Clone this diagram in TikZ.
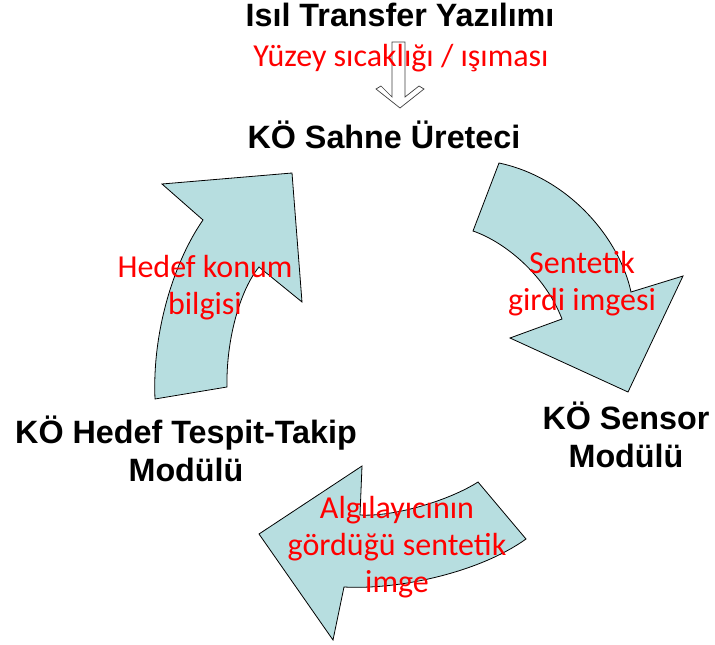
\documentclass[tikz,border=0pt]{standalone}
\usepackage{fontspec}
\setmainfont{Liberation Sans}
\newfontfamily\labelfont{Carlito}
\definecolor{arrowfill}{RGB}{183,222,224}
\definecolor{labelred}{RGB}{255,0,0}
\begin{document}
\begin{tikzpicture}[x=1pt,y=-1pt,
  cyclearrow/.style={draw=black,line width=0.8pt,fill=arrowfill,line join=miter},
  hollowarrow/.style={draw=black!75,line width=0.7pt,fill=white},
  title/.style={font=\fontsize{32.3}{38.5}\selectfont\bfseries,align=center,inner sep=0pt},
  redlabel/.style={font=\labelfont\fontsize{32}{37}\selectfont,text=labelred,align=center,inner sep=0pt}]
\useasboundingbox (0,0) rectangle (715,645);

% hollow arrow from the thermal software down to the scene generator
\draw[hollowarrow] (392,42) -- (392,97) -- (381,86) -- (376,89) -- (400,108)
  -- (424,89) -- (419,86) -- (405,97) -- (405,42) -- cycle;

% curved arrow: tracker -> scene generator
\draw[cyclearrow] (155,399) -- (227,387)
  .. controls (226,340) and (240,290) .. (259,267)
  -- (302,302) -- (292,173) -- (162,184) -- (203,220)
  .. controls (175,260) and (152,330) .. (155,399) -- cycle;

% curved arrow: scene generator -> sensor
\draw[cyclearrow] (499,163) -- (473,231)
  .. controls (505,242) and (545,275) .. (562,319)
  -- (510,338) -- (628,392) -- (683,276) -- (631,292)
  .. controls (620,240) and (570,178) .. (499,163) -- cycle;

% curved arrow: sensor -> tracker
\draw[cyclearrow] (478,482) -- (526,539)
  .. controls (480,572) and (400,590) .. (344,587)
  -- (333,640) -- (259,534) -- (362,466) -- (360,515)
  .. controls (395,517) and (450,500) .. (478,482) -- cycle;

% module names
\node[title,anchor=base] (thermal) at (400,26) {Isıl Transfer Yazılımı};
\node[title,anchor=base] (scene) at (384,148) {KÖ Sahne Üreteci};
\node[title] (tracker) at (186,449) {KÖ Hedef Tespit-Takip\\Modülü};
\node[title] (sensor) at (626,435) {KÖ Sensor\\Modülü};

% data flow labels
\node[redlabel,anchor=base] (surface) at (401,66) {Yüzey sıcaklığı / ışıması};
\node[redlabel] (target) at (205,288) {Hedef konum\\bilgisi};
\node[redlabel] (synth) at (582,284) {Sentetik\\girdi imgesi};
\node[redlabel] (seen) at (397,547) {Algılayıcının\\gördüğü sentetik\\imge};
\end{tikzpicture}
\end{document}
